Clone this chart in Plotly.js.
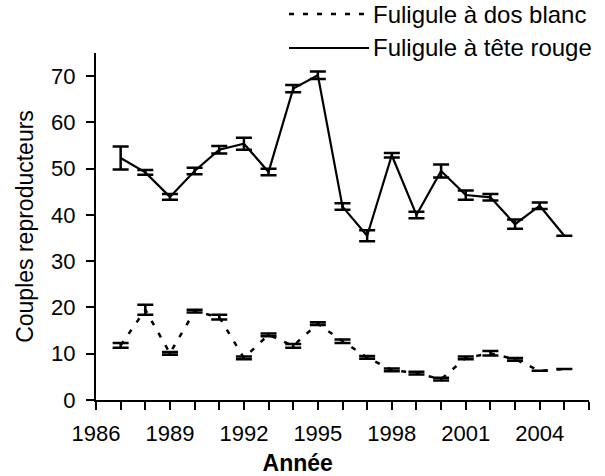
<!DOCTYPE html>
<html>
<head>
<meta charset="utf-8">
<script src="https://cdn.plot.ly/plotly-3.0.1.min.js"></script>
<style>
  html, body { margin: 0; padding: 0; background: #fff; }
  #chart { width: 605px; height: 476px; }
</style>
</head>
<body>
<div id="chart"></div>
<script>
// ---- Data ----
const years = [1987, 1988, 1989, 1990, 1991, 1992, 1993, 1994, 1995, 1996,
               1997, 1998, 1999, 2000, 2001, 2002, 2003, 2004, 2005];

const teteRouge = [52.3, 49.2, 43.9, 49.5, 54.1, 55.4, 49.3, 67.3, 70.2, 41.8,
                   35.5, 52.9, 40.0, 49.5, 44.3, 43.8, 38.0, 42.0, 35.5];
const teteRougeErr = [2.5, 0.5, 0.6, 0.7, 0.8, 1.3, 0.7, 0.8, 0.8, 0.7,
                      1.2, 0.5, 0.7, 1.4, 1.0, 0.7, 1.0, 0.7, null];

const dosBlanc = [11.8, 19.5, 10.1, 19.2, 17.9, 9.1, 14.1, 11.7, 16.5, 12.7,
                  9.2, 6.5, 5.8, 4.5, 9.1, 10.1, 8.8, 6.3, 6.7];
const dosBlancErr = [0.5, 1.1, 0.3, 0.3, 0.5, 0.3, 0.3, 0.4, 0.3, 0.4,
                     0.3, 0.3, 0.3, 0.3, 0.3, 0.5, 0.3, null, null];

const seriesNames = ["Fuligule à dos blanc", "Fuligule à tête rouge"];

const xTickVals = [1986, 1987, 1988, 1989, 1990, 1991, 1992, 1993, 1994, 1995, 1996,
                   1997, 1998, 1999, 2000, 2001, 2002, 2003, 2004, 2005, 2006];
const xTickText = ["1986", "", "", "1989", "", "", "1992", "", "", "1995", "",
                   "", "1998", "", "", "2001", "", "", "2004", "", ""];
const yTickVals = [0, 10, 20, 30, 40, 50, 60, 70];

const xTitle = "Année";
const yTitle = "Couples reproducteurs";

// ---- Layout geometry ----
const W = 605, H = 476;
const M = { l: 96, r: 16, t: 53, b: 76 };
const plotW = W - M.l - M.r, plotH = H - M.t - M.b;
const px2x = p => (p - M.l) / plotW;
const px2y = p => (H - M.b - p) / plotH;

const FONT = 'Arial, "Liberation Sans", sans-serif';

const traces = [
  {
    x: years, y: dosBlanc, name: seriesNames[0], type: "scatter", mode: "lines",
    line: { color: "#000", width: 2.5, dash: "5px,9px" },
    error_y: { type: "data", array: dosBlancErr, visible: true, color: "#000", thickness: 2.5, width: 8 },
    showlegend: false
  },
  {
    x: years, y: teteRouge, name: seriesNames[1], type: "scatter", mode: "lines",
    line: { color: "#000", width: 2.2 },
    error_y: { type: "data", array: teteRougeErr, visible: true, color: "#000", thickness: 2.5, width: 8 },
    showlegend: false
  }
];

const legY = [14, 48];
const legendShapes = [
  { type: "line", xref: "paper", yref: "paper", x0: px2x(289), x1: px2x(371), y0: px2y(legY[0]), y1: px2y(legY[0]),
    line: { color: "#000", width: 2.5, dash: "5px,9px" } },
  { type: "line", xref: "paper", yref: "paper", x0: px2x(289), x1: px2x(369), y0: px2y(legY[1]), y1: px2y(legY[1]),
    line: { color: "#000", width: 2.2 } }
];
const legendTexts = seriesNames.map((name, i) => ({
  text: name, xref: "paper", yref: "paper", x: px2x(371), y: px2y(legY[i]),
  xanchor: "left", yanchor: "middle", showarrow: false,
  font: { family: FONT, size: 24, color: "#000" }
}));

const layout = {
  width: W, height: H,
  margin: M,
  paper_bgcolor: "#fff", plot_bgcolor: "#fff",
  font: { family: FONT, color: "#000", size: 22 },
  showlegend: false,
  xaxis: {
    range: [1986, 2006], autorange: false,
    tickmode: "array", tickvals: xTickVals, ticktext: xTickText,
    ticks: "outside", ticklen: 8, tickwidth: 2, tickcolor: "#000",
    ticklabelstandoff: 5,
    showline: true, linewidth: 2, linecolor: "#000",
    showgrid: false, zeroline: false, automargin: false,
    tickfont: { family: FONT, size: 22, color: "#000" },
    title: { text: "<b>" + xTitle + "</b>" + "\u00a0".repeat(14) + "\u200b", standoff: 11,
             font: { family: FONT, size: 23, color: "#000" } }
  },
  yaxis: {
    range: [0, 75], autorange: false,
    tickmode: "array", tickvals: yTickVals,
    ticks: "outside", ticklen: 8, tickwidth: 2, tickcolor: "#000",
    ticklabelstandoff: 6,
    showline: true, linewidth: 2, linecolor: "#000",
    showgrid: false, zeroline: false, automargin: false,
    tickfont: { family: FONT, size: 22, color: "#000" },
    title: { text: yTitle, standoff: 11, font: { family: FONT, size: 23, color: "#000" } }
  },
  shapes: legendShapes,
  annotations: legendTexts
};

Plotly.newPlot("chart", traces, layout, { staticPlot: true, displayModeBar: false });
</script>
</body>
</html>
